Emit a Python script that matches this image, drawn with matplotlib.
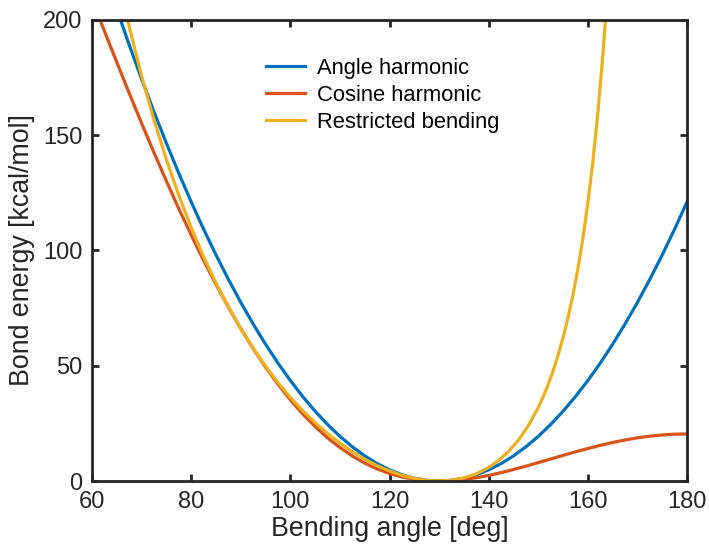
import matplotlib
matplotlib.use("Agg")
import matplotlib.pyplot as plt

plt.rcParams['font.family'] = ['Liberation Sans', 'DejaVu Sans']

# Bending energy [kcal/mol] versus bending angle [deg], equilibrium angle 130 deg
theta_std = [60, 62.5, 65, 67.5, 70, 72.5, 75, 77.5, 80, 82.5, 85, 87.5, 90,
             92.5, 95, 97.5, 100, 102.5, 105, 107.5, 110, 112.5, 115, 117.5,
             120, 122.5, 125, 127.5, 130, 132.5, 135, 137.5, 140, 142.5, 145,
             147.5, 150, 152.5, 155, 157.5, 160, 162.5, 165, 167.5, 170, 172.5,
             175, 177.5, 180]
angle_harmonic = [237.33, 220.68, 204.64, 189.20, 174.37, 160.14, 146.52,
                  133.50, 121.09, 109.28, 98.08, 87.49, 77.50, 68.11, 59.33,
                  51.16, 43.59, 36.63, 30.27, 24.52, 19.37, 14.83, 10.90, 7.57,
                  4.84, 2.72, 1.21, 0.30, 0.0, 0.30, 1.21, 2.72, 4.84, 7.57,
                  10.90, 14.83, 19.37, 24.52, 30.27, 36.63, 43.59, 51.16, 59.33,
                  68.11, 77.50, 87.49, 98.08, 109.28, 121.09]
cosine_harmonic = [209.0, 195.20, 181.6, 168.25, 155.2, 142.43, 130.1, 118.12,
                   106.7, 95.68, 85.3, 75.39, 66.1, 57.44, 49.4, 41.99, 35.2,
                   29.08, 23.6, 18.72, 14.5, 10.83, 7.76, 5.24, 3.26, 1.78,
                   0.77, 0.19, 0.0, 0.17, 0.66, 1.43, 2.43, 3.63, 4.98, 6.44,
                   7.97, 9.54, 11.11, 12.64, 14.10, 15.47, 16.71, 17.80, 18.72,
                   19.45, 19.98, 20.31, 20.42]

theta_rb = [60, 62.5, 65, 67.5, 70, 72.5, 75, 77.5, 80, 82.5, 85, 87.5, 90,
            92.5, 95, 97.5, 100, 102.5, 105, 107.5, 110, 112.5, 115, 117.5,
            120, 122.5, 125, 127.5, 130, 132.5, 135, 137.5, 140, 142, 144, 146,
            148, 150, 151, 152, 153, 154, 155, 156, 157, 158, 159, 160, 161,
            162, 163, 164, 165]
restricted_bending = [278.6, 248.10, 221.1, 197.12, 175.7, 156.59, 139.4,
                      123.93, 110.0, 97.34, 85.9, 75.53, 66.1, 57.55, 49.8,
                      42.71, 36.3, 30.51, 25.3, 20.58, 16.4, 12.68, 9.44, 6.67,
                      4.35, 2.50, 1.14, 0.29, 0.0, 0.32, 1.32, 3.13, 5.88, 8.90,
                      12.80, 17.75, 24.0, 31.9, 36.6, 41.9, 47.8, 54.6, 62.2,
                      70.9, 80.8, 92.2, 105.3, 120.6, 138.3, 159.2, 184.0,
                      213.6, 249.4]

x_ticks = [60, 80, 100, 120, 140, 160, 180]
y_ticks = [0, 50, 100, 150, 200]

blue, red, yellow = '#0072BD', '#D95319', '#EDB120'
ink = '#262626'

fig = plt.figure(figsize=(7.09, 5.52), dpi=100)
ax = fig.add_axes([0.1298, 0.1286, 0.8392, 0.8352])

lw = 2.3
ax.plot(theta_std, angle_harmonic, color=blue, lw=lw, label='Angle harmonic',
        solid_joinstyle='round')
ax.plot(theta_std, cosine_harmonic, color=red, lw=lw, label='Cosine harmonic',
        solid_joinstyle='round')
ax.plot(theta_rb, restricted_bending, color=yellow, lw=lw,
        label='Restricted bending', solid_joinstyle='round')

ax.set_xlim(60, 180)
ax.set_ylim(0, 200)
ax.set_xticks(x_ticks)
ax.set_yticks(y_ticks)

for sp in ax.spines.values():
    sp.set_linewidth(2.0)
    sp.set_color(ink)

ax.tick_params(direction='in', length=5, width=2.0, colors=ink,
               labelsize=17, top=True, right=True)
ax.tick_params(axis='x', pad=7)
ax.tick_params(axis='y', pad=7)
for lab in ax.get_xticklabels() + ax.get_yticklabels():
    lab.set_color(ink)

ax.set_xlabel('Bending angle [deg]', fontsize=19.3, color=ink, labelpad=2)
ax.set_ylabel('Bond energy [kcal/mol]', fontsize=19.3, color=ink, labelpad=6)

leg = ax.legend(loc='upper left', bbox_to_anchor=(0.277, 0.937), frameon=False,
                fontsize=15.8, handlelength=1.8, handletextpad=0.55,
                labelspacing=0.27, borderaxespad=0.0)

fig.savefig('out.png', dpi=100)
